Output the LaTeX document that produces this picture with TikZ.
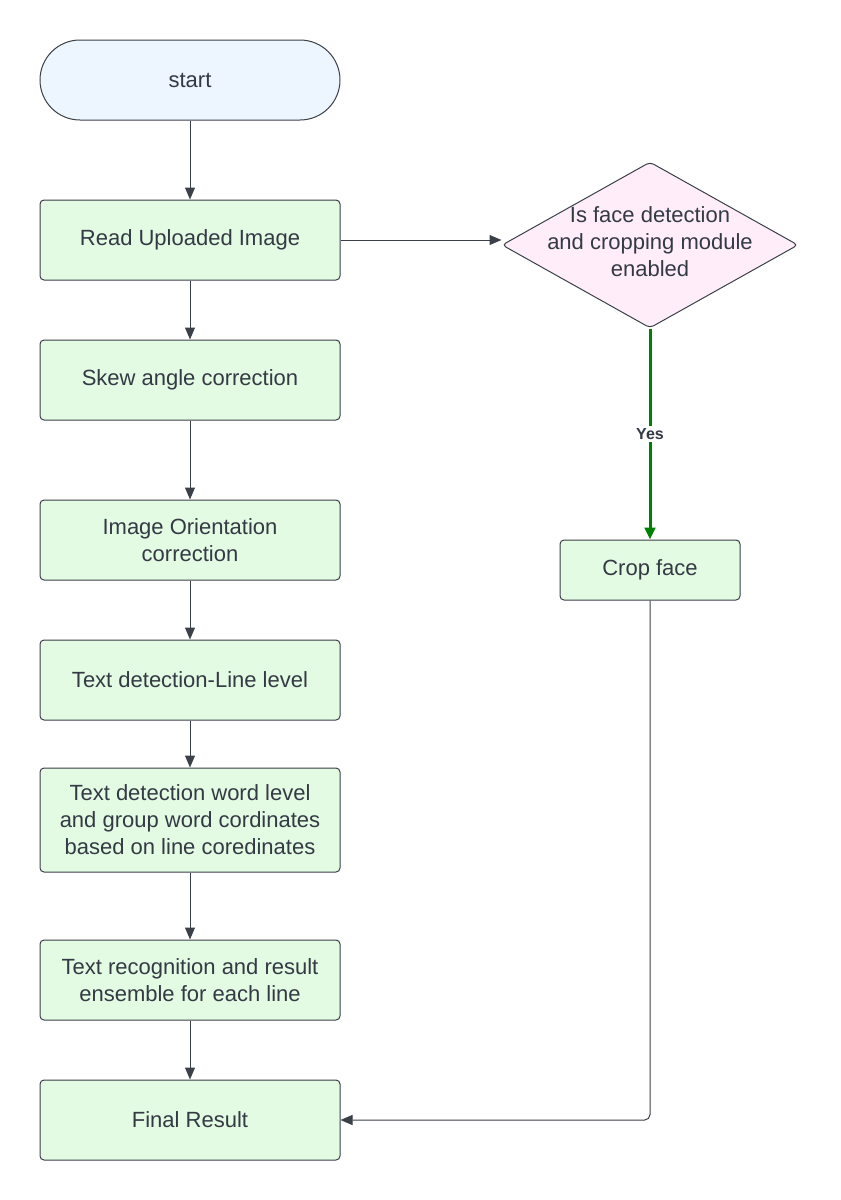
\documentclass[tikz,border=0pt]{standalone}
\usepackage{fontspec}
\setmainfont{Liberation Sans}
\usetikzlibrary{arrows.meta,shapes.geometric}
\definecolor{lineg}{RGB}{59,64,72}
\definecolor{textg}{RGB}{52,58,68}
\definecolor{boxgreen}{RGB}{227,250,227}
\definecolor{boxblue}{RGB}{237,245,255}
\definecolor{boxpink}{RGB}{255,238,250}
\definecolor{yesgreen}{RGB}{0,128,0}
\tikzset{
  flow/.style={
    line width=0.75pt,
    draw=lineg,
    text=textg,
    font=\fontsize{16.5}{20.25}\selectfont
  },
  terminal/.style={
    flow,
    fill=boxblue,
    rounded corners=30pt,
    minimum width=225pt,
    minimum height=60pt,
    inner sep=0pt
  },
  process/.style={
    flow,
    fill=boxgreen,
    rounded corners=3pt,
    minimum width=225pt,
    minimum height=60pt,
    inner sep=0pt,
    align=center
  },
  decision/.style={
    flow,
    diamond,
    fill=boxpink,
    rounded corners=3pt,
    minimum width=222pt,
    minimum height=124.5pt,
    inner sep=0pt
  },
  decision-text/.style={text=textg, font=\fontsize{16.5}{20.25}\selectfont, align=center},
  link/.style={line width=0.75pt, draw=lineg, -{Triangle[length=9pt,width=7.5pt]}},
  link-yes/.style={line width=2.25pt, draw=yesgreen, -{Triangle[length=9pt,width=8pt]}}
}

\begin{document}
\begin{tikzpicture}[x=0.75pt,y=-0.75pt]
  \useasboundingbox (0,0) rectangle (840,1200);
  % main column
  \node[terminal] (start) at (190,80) {start};
  \node[process] (read) at (190,240) {Read Uploaded Image};
  \node[process] (skew) at (190,380) {Skew angle correction};
  \node[process] (orient) at (190,540) {Image Orientation\\correction};
  \node[process] (line) at (190,680) {Text detection-Line level};
  \node[process, minimum height=78pt] (word) at (190,820) {Text detection word level\\and group word cordinates\\based on line coredinates};
  \node[process] (recog) at (190,980) {Text recognition and result\\ensemble for each line};
  \node[process] (final) at (190,1120) {Final Result};
  % face branch
  \node[decision] (face) at (650,245) {};
  \node[decision-text] (facetext) at (650,242) {Is face detection\\and cropping module\\enabled};
  \node[process, minimum width=135pt, minimum height=45pt] (crop) at (650,570) {Crop face};

  \draw[link] (start) -- (read);
  \draw[link] (read) -- (skew);
  \draw[link] (skew) -- (orient);
  \draw[link] (orient) -- (line);
  \draw[link] (line) -- (word);
  \draw[link] (word) -- (recog);
  \draw[link] (recog) -- (final);
  \draw[link] (read.east) -- (read.east -| face.west);
  \draw[link-yes] (face.south) -- node[fill=white, text=textg, font=\bfseries\fontsize{12}{14}\selectfont, inner sep=2pt] {Yes} (crop.north);
  \draw[link, rounded corners=4pt] (crop.south) |- (final.east);
\end{tikzpicture}
\end{document}
